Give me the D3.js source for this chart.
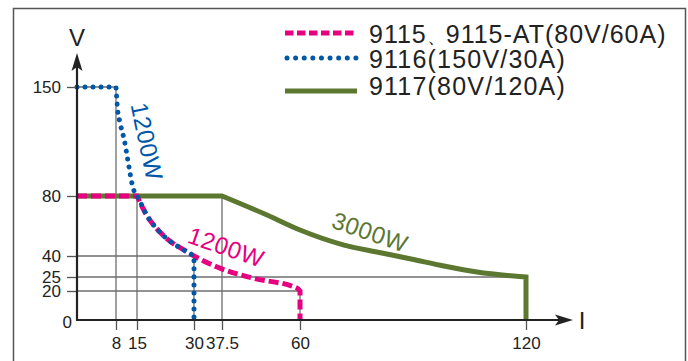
<!DOCTYPE html>
<meta charset="utf-8">
<script src="https://d3js.org/d3.v7.min.js"></script>
<style>
  body { margin: 0; background: #fff; }
</style>
<div id="chart"></div>
<script>

// values: current I (A), voltage V
var xTicks = [8, 15, 30, 37.5, 60, 120];
var yTicks = [0, 20, 25, 40, 80, 150];
var seriesNames = ["9115、9115-AT(80V/60A)", "9116(150V/30A)", "9117(80V/120A)"];

var s9115 = [[0, 80], [15, 80], [17.6, 67], [21.8, 54], [28.2, 42.7], [36.2, 32.1],
             [46.4, 24.6], [59.1, 21.1], [60, 20], [60, 0]];
var s9116 = [[0, 150], [8, 150], [8.2, 144], [8.5, 136], [9.3, 127.5], [10, 121.7],
             [10.7, 116.6], [11.5, 108], [12.3, 99], [13.3, 88.3], [14.3, 81.9], [15, 80],
             [17.6, 67], [21.8, 54], [28.2, 42.7], [30, 40], [30, 0]];
var s9117 = [[0, 80], [37.5, 80], [50.5, 67.3], [60, 57.3], [71.7, 47.3], [80.4, 42.7],
             [89.5, 37.9], [98.2, 32.9], [107, 28.6], [120, 25], [120, 0]];

var wattLabels = ["1200W", "1200W", "3000W"];

// guide lines: [I, V] of each corner
var vGuides = [[8, 150], [15, 80], [30, 40], [37.5, 80], [60, 20], [120, 25]];
var hGuides = [[150, 8], [80, 37.5], [40, 30], [25, 120], [20, 60]];

var W = 688, H = 361;
var pink = "#e6007f", blue = "#0057a8", green = "#5b7730", ink = "#222";
var font = "Liberation Sans, Arial, sans-serif";

var svg = d3.select("#chart").append("svg")
    .attr("width", W).attr("height", H);

// frame
svg.append("rect")
    .attr("x", 13.5).attr("y", 8.5).attr("width", 672).attr("height", 370)
    .attr("fill", "none").attr("stroke", "#555").attr("stroke-width", 1.5);

// the drawing is schematic, so the scales are piecewise
var x = d3.scaleLinear()
    .domain([0, 8, 15, 30, 37.5, 60, 120])
    .range([77, 116, 137, 194, 222, 300, 526]);
var y = d3.scaleLinear()
    .domain([0, 20, 25, 40, 80, 150])
    .range([320, 291, 277, 256, 196, 87]);

// guide lines
svg.selectAll("vguide").data(vGuides).enter().append("line")
    .attr("x1", function(d) { return x(d[0]); })
    .attr("x2", function(d) { return x(d[0]); })
    .attr("y1", function(d) { return y(d[1]); })
    .attr("y2", y(0))
    .attr("stroke", "#6e6e6e").attr("stroke-width", 1.3);
svg.selectAll("hguide").data(hGuides).enter().append("line")
    .attr("x1", x(0))
    .attr("x2", function(d) { return x(d[1]); })
    .attr("y1", function(d) { return y(d[0]); })
    .attr("y2", function(d) { return y(d[0]); })
    .attr("stroke", "#6e6e6e").attr("stroke-width", 1.3);

// straight start, smooth middle, straight drop
var smooth = d3.line()
    .x(function(d) { return x(d[0]); })
    .y(function(d) { return y(d[1]); })
    .curve(d3.curveMonotoneX);
function curvePath(pts) {
  var first = pts[0], last = pts[pts.length - 1];
  var mid = smooth(pts.slice(1, -1));
  return "M" + x(first[0]) + "," + y(first[1]) + "L" + mid.slice(1) +
         "L" + x(last[0]) + "," + y(last[1]);
}

svg.append("path").attr("d", curvePath(s9117))
    .attr("fill", "none").attr("stroke", green).attr("stroke-width", 5);
svg.append("path").attr("d", curvePath(s9115))
    .attr("fill", "none").attr("stroke", pink).attr("stroke-width", 5)
    .attr("stroke-dasharray", "10,4");
svg.append("path").attr("d", curvePath(s9116))
    .attr("fill", "none").attr("stroke", blue).attr("stroke-width", 5)
    .attr("stroke-linecap", "round").attr("stroke-dasharray", "0.01,8");

// watt labels
var labelSpots = [[17.6, 115, 78, blue], [38.7, 46, 19, pink], [78.6, 56, 19, green]];
svg.selectAll("watt").data(wattLabels).enter().append("text")
    .attr("transform", function(d, i) {
      var s = labelSpots[i];
      return "translate(" + x(s[0]) + "," + y(s[1]) + ") rotate(" + s[2] + ")";
    })
    .attr("text-anchor", "middle")
    .attr("dominant-baseline", "central")
    .style("font-family", font)
    .style("font-size", "24px")
    .style("letter-spacing", "0.5px")
    .style("fill", function(d, i) { return labelSpots[i][3]; })
    .text(function(d) { return d; });

// axes
var xAxis = svg.append("g")
    .attr("transform", "translate(0," + y(0) + ")")
    .call(d3.axisBottom(x).tickValues(xTicks).tickSize(10).tickPadding(7)
      .tickFormat(function(d) { return d; }));
var yAxis = svg.append("g")
    .attr("transform", "translate(" + x(0) + ",0)")
    .call(d3.axisLeft(y).tickValues(yTicks).tickSize(10).tickPadding(6));

[xAxis, yAxis].forEach(function(g) {
  g.select(".domain").remove();
  g.selectAll(".tick line").attr("stroke", "#555").attr("stroke-width", 1.3);
  g.selectAll(".tick text")
    .attr("fill", ink)
    .style("font-family", font)
    .style("font-size", "17px");
});
yAxis.selectAll(".tick").filter(function(d) { return d === 0; })
  .each(function() {
    d3.select(this).select("line").remove();
    d3.select(this).select("text").attr("x", -5).attr("dy", "0.45em");
  });

svg.append("line")
    .attr("x1", x(0)).attr("x2", x(0)).attr("y1", y(0) + 1).attr("y2", 62)
    .attr("stroke", ink).attr("stroke-width", 2.2);
svg.append("line")
    .attr("x1", x(0) - 1).attr("x2", 562).attr("y1", y(0)).attr("y2", y(0))
    .attr("stroke", ink).attr("stroke-width", 2.2);
svg.append("path")
    .attr("d", "M77,53 L82.5,71 L77,67 L71.5,71 Z").attr("fill", ink);
svg.append("path")
    .attr("d", "M573,320 L555,314.5 L559,320 L555,325.5 Z").attr("fill", ink);

svg.append("text").attr("x", x(0)).attr("y", 46)
    .attr("text-anchor", "middle")
    .style("font-family", font)
    .style("font-size", "24px").style("fill", ink).text("V");
svg.append("text").attr("x", 582).attr("y", 329)
    .attr("text-anchor", "middle")
    .style("font-family", font)
    .style("font-size", "24px").style("fill", ink).text("I");

// legend
var legendY = [33, 58, 91];
var legendBase = [43, 68, 95];
var legend = svg.append("g");
legend.append("line").attr("x1", 285).attr("x2", 357).attr("y1", legendY[0]).attr("y2", legendY[0])
    .attr("stroke", pink).attr("stroke-width", 5).attr("stroke-dasharray", "8.5,3.5");
legend.append("line").attr("x1", 287).attr("x2", 357).attr("y1", legendY[1]).attr("y2", legendY[1])
    .attr("stroke", blue).attr("stroke-width", 5).attr("stroke-linecap", "round")
    .attr("stroke-dasharray", "0.01,8.6");
legend.append("line").attr("x1", 285).attr("x2", 357).attr("y1", legendY[2]).attr("y2", legendY[2])
    .attr("stroke", green).attr("stroke-width", 5);

var names = legend.selectAll("name").data(seriesNames).enter().append("text")
    .attr("x", 369)
    .attr("y", function(d, i) { return legendBase[i]; })
    .style("font-family", font)
    .style("font-size", "25px")
    .style("letter-spacing", function(d, i) { return i === 0 ? "1px" : "1.2px"; })
    .style("fill", ink);
// the ideographic comma sits tight, so give it a smaller size
names.each(function(d) {
  var parts = d.split("、");
  var t = d3.select(this);
  if (parts.length === 1) { t.text(d); return; }
  t.append("tspan").text(parts[0]);
  t.append("tspan").style("font-size", "19px").style("letter-spacing", "0px").text("、");
  t.append("tspan").text(parts[1]);
});

</script>
